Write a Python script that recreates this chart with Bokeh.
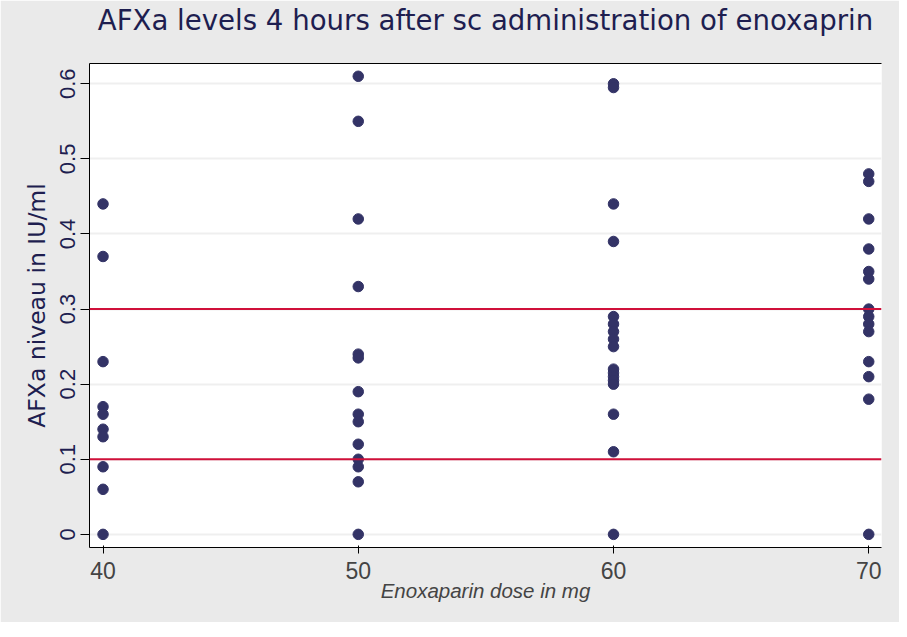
from bokeh.plotting import figure
from bokeh.models import ColumnDataSource, Span, FixedTicker, Range1d, LinearAxis
from bokeh.embed import file_html
from bokeh.resources import INLINE

# ---- data ----
doses = [40, 50, 60, 70]
afxa_40 = [0.44, 0.37, 0.23, 0.17, 0.16, 0.14, 0.13, 0.09, 0.06, 0.0]
afxa_50 = [0.61, 0.55, 0.42, 0.33, 0.24, 0.235, 0.19, 0.16, 0.15, 0.12, 0.10, 0.09, 0.07, 0.0]
afxa_60 = [0.60, 0.595, 0.44, 0.39, 0.29, 0.28, 0.27, 0.26, 0.25, 0.22, 0.215, 0.21, 0.205, 0.20, 0.16, 0.11, 0.0]
afxa_70 = [0.48, 0.47, 0.42, 0.38, 0.35, 0.34, 0.30, 0.29, 0.28, 0.27, 0.23, 0.21, 0.18, 0.0]
ref_levels = [0.1, 0.3]
y_ticks = [0.0, 0.1, 0.2, 0.3, 0.4, 0.5, 0.6]
y_tick_labels = ["0", "0.1", "0.2", "0.3", "0.4", "0.5", "0.6"]
x_ticks = [40, 50, 60, 70]
title_text = "AFXa levels 4 hours after sc administration of enoxaprin"

groups = [afxa_40, afxa_50, afxa_60, afxa_70]
xs, ys = [], []
for d, vals in zip(doses, groups):
    xs += [d] * len(vals)
    ys += vals
src = ColumnDataSource(dict(x=xs, y=ys))

TFONT = "DejaVu Sans"
NFONT = "Liberation Sans"
GREY = "#eaeaea"
NAVY = "#333366"
TXT = "#1e1e50"

p = figure(width=899, height=622, output_backend="svg", toolbar_location=None,
           x_range=Range1d(39.47, 70.5), y_range=Range1d(-0.0175, 0.627),
           min_border_left=89, min_border_right=18, min_border_top=63, min_border_bottom=75)
p.background_fill_color = "white"
p.border_fill_color = GREY
p.outline_line_color = None

# title: drawn as the label of an invisible axis above the frame
top_axis = LinearAxis(ticker=FixedTicker(ticks=[]), axis_line_color=None,
                      major_tick_line_color=None, minor_tick_line_color=None,
                      major_tick_out=0, major_tick_in=0, minor_tick_out=0, minor_tick_in=0,
                      major_label_standoff=0, major_label_text_font_size="1px",
                      axis_label=title_text, axis_label_standoff=27,
                      axis_label_text_font=TFONT, axis_label_text_font_size="27.6px",
                      axis_label_text_font_style="normal", axis_label_text_color=TXT)
p.add_layout(top_axis, "above")

p.scatter("x", "y", source=src, size=10.5, color=NAVY, marker="circle")

for lv in ref_levels:
    p.add_layout(Span(location=lv, dimension="width", line_color="#d0103a", line_width=2))

# grids
p.xgrid.visible = False
p.ygrid.ticker = FixedTicker(ticks=y_ticks)
p.ygrid.grid_line_color = "#efefef"
p.ygrid.grid_line_width = 2

# axes
for ax in (p.xaxis[0], p.yaxis[0]):
    ax.axis_line_color = "black"
    ax.major_tick_line_color = "black"
    ax.major_tick_in = 0
    ax.major_tick_out = 9
    ax.minor_tick_line_color = None
    ax.major_label_text_font = NFONT
    ax.major_label_text_color = TXT
    ax.axis_label_text_font = TFONT
    ax.axis_label_text_font_style = "normal"
    ax.axis_label_text_color = TXT

xa = p.below[0]
xa.ticker = FixedTicker(ticks=x_ticks)
xa.major_label_text_font_size = "23px"
xa.axis_label = "Enoxaparin dose in mg"
xa.axis_label_text_font_size = "20.5px"
xa.major_label_standoff = 8
xa.axis_label_standoff = -3

ya = p.yaxis[0]
ya.ticker = FixedTicker(ticks=y_ticks)
ya.major_label_overrides = {t: l for t, l in zip(y_ticks, y_tick_labels)}
ya.major_label_orientation = "vertical"
ya.major_label_text_font_size = "22px"
ya.axis_label = "AFXa niveau in IU/ml"
ya.axis_label_text_font_size = "23.5px"
ya.major_label_standoff = 5
ya.axis_label_standoff = 7

open("out.html", "w").write(file_html(p, INLINE))
